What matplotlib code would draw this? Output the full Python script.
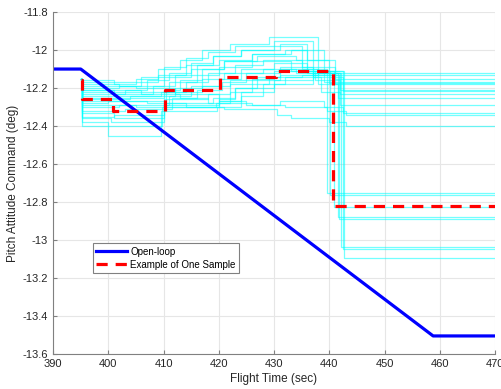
import matplotlib
matplotlib.use("Agg")
import matplotlib.pyplot as plt
from matplotlib.ticker import FormatStrFormatter

plt.rcParams['font.family'] = ['Liberation Sans', 'DejaVu Sans']

# open-loop command
open_t = [390, 395, 458.8, 470]
open_v = [-12.1, -12.1, -13.505, -13.505]

# one sample of the closed-loop runs
sample_t = [395, 395.2, 400.9, 410.3, 420.3, 430.4, 440.6, 470]
sample_v = [-12.16, -12.26, -12.32, -12.21, -12.14, -12.11, -12.82, -12.82]

# Monte Carlo runs (step traces)
runs = [
    ([395, 395.2, 401, 405, 409, 413, 417, 422, 429, 438],
     [-12.15, -12.17, -12.18, -12.15, -12.10, -12.05, -12.00, -11.97, -11.93, -12.12]),
    ([395, 395.2, 402, 406, 410, 414, 418, 423, 430, 437],
     [-12.15, -12.20, -12.19, -12.14, -12.09, -12.04, -12.01, -11.98, -11.95, -12.13]),
    ([395, 395.2, 403, 407, 411, 415, 419, 424, 431, 436, 441],
     [-12.15, -12.22, -12.21, -12.16, -12.12, -12.07, -12.03, -12.00, -11.97, -12.05, -12.15]),
    ([395, 395.2, 401, 408, 412, 416, 420, 426, 433, 439],
     [-12.15, -12.24, -12.23, -12.19, -12.13, -12.08, -12.05, -12.02, -12.00, -12.17]),
    ([395, 395.2, 404, 410, 413, 417, 421, 427, 434, 440],
     [-12.15, -12.26, -12.25, -12.21, -12.16, -12.10, -12.06, -12.03, -12.05, -12.175]),
    ([395, 395.2, 400, 410.5, 414, 418, 423, 428, 435, 441],
     [-12.15, -12.28, -12.27, -12.22, -12.17, -12.12, -12.08, -12.05, -12.09, -12.18]),
    ([395, 395.2, 402, 411, 415, 420, 424, 430, 436, 442],
     [-12.15, -12.30, -12.29, -12.24, -12.19, -12.15, -12.10, -12.07, -12.12, -12.21]),
    ([395, 395.2, 403, 411.5, 416, 420.5, 425, 431, 437, 442.5],
     [-12.15, -12.32, -12.31, -12.25, -12.21, -12.17, -12.12, -12.09, -12.14, -12.215]),
    ([395, 395.2, 401, 410, 419.5, 422, 426, 430, 437.5, 442],
     [-12.15, -12.35, -12.34, -12.30, -12.28, -12.22, -12.15, -12.11, -12.16, -12.23]),
    ([395, 395.2, 400, 409.7, 420, 423, 427, 431, 438, 441.5],
     [-12.15, -12.38, -12.40, -12.30, -12.26, -12.20, -12.14, -12.10, -12.18, -12.25]),
    ([395, 395.2, 400, 409.6, 419.7, 424, 428, 432, 438.5, 442],
     [-12.15, -12.40, -12.45, -12.32, -12.30, -12.24, -12.18, -12.14, -12.22, -12.29]),
    ([395, 395.2, 405, 412, 420, 425, 431, 439, 442.5],
     [-12.15, -12.19, -12.20, -12.23, -12.27, -12.29, -12.27, -12.30, -12.33]),
    ([395, 395.2, 406, 413, 418, 426, 432, 439.5, 443],
     [-12.15, -12.21, -12.23, -12.25, -12.28, -12.29, -12.30, -12.32, -12.34]),
    ([395, 395.2, 407, 414, 421, 430.5, 433, 440, 443],
     [-12.15, -12.27, -12.28, -12.30, -12.31, -12.34, -12.36, -12.38, -12.40]),
    ([395, 395.2, 401, 409, 414, 419, 424, 430, 435, 439.5],
     [-12.15, -12.16, -12.17, -12.13, -12.08, -12.03, -12.00, -11.98, -12.10, -12.755]),
    ([395, 395.2, 402, 410, 415, 421, 426, 432, 436, 440.2],
     [-12.15, -12.18, -12.19, -12.14, -12.10, -12.06, -12.02, -12.00, -12.11, -12.765]),
    ([395, 395.2, 403, 411, 416, 420, 426, 433, 440.8],
     [-12.15, -12.23, -12.22, -12.17, -12.13, -12.09, -12.06, -12.11, -12.825]),
    ([395, 395.2, 404, 412, 417, 421, 428, 434, 441.5],
     [-12.15, -12.25, -12.24, -12.20, -12.15, -12.12, -12.10, -12.12, -12.88]),
    ([395, 395.2, 405, 410, 418, 422, 429, 435, 441.8],
     [-12.15, -12.29, -12.30, -12.26, -12.23, -12.18, -12.14, -12.13, -12.89]),
    ([395, 395.2, 401, 410, 419, 423, 430, 437, 442.2],
     [-12.15, -12.33, -12.36, -12.28, -12.25, -12.20, -12.16, -12.12, -13.035]),
    ([395, 395.2, 400.5, 410, 420, 424, 430, 437, 442.4],
     [-12.15, -12.36, -12.38, -12.29, -12.27, -12.22, -12.18, -12.11, -13.045]),
    ([395, 395.2, 401, 409.5, 417, 422, 431, 438, 442.7],
     [-12.15, -12.21, -12.24, -12.22, -12.19, -12.16, -12.13, -12.11, -13.095]),
]

fig = plt.figure(figsize=(5.01, 3.89), dpi=100)
ax = fig.add_axes([0.106, 0.09, 0.882, 0.879])

for t, v in runs:
    ax.plot(t + [470], v + [v[-1]], drawstyle='steps-post',
            color='cyan', alpha=0.55, lw=0.9)

ax.plot(open_t, open_v, color='#0000ff', lw=2.3, label='Open-loop')
ax.plot(sample_t, sample_v, drawstyle='steps-post', color='#ff0000', lw=2.3,
        dashes=(3.5, 2.5), label='Example of One Sample')

ax.set_xlim(390, 470)
ax.set_ylim(-13.6, -11.8)
ax.set_xticks(range(390, 471, 10))
ax.set_yticks([-13.6 + 0.2 * i for i in range(10)])
ax.yaxis.set_major_formatter(FormatStrFormatter('%g'))
ax.grid(True, color='#e6e6e6', lw=0.8)
ax.set_axisbelow(True)

for s in ['top', 'right']:
    ax.spines[s].set_visible(False)
for s in ['left', 'bottom']:
    ax.spines[s].set_color('#808080')
ax.tick_params(direction='in', length=3, labelsize=8, colors='#262626')
ax.tick_params(axis='both', color='#808080')

ax.set_xlabel('Flight Time (sec)', fontsize=8.5, color='#262626', labelpad=3)
ax.set_ylabel('Pitch Attitude Command (deg)', fontsize=8.5, color='#262626', labelpad=3)

leg = ax.legend(loc='lower left', bbox_to_anchor=(0.09, 0.237), fontsize=7,
                fancybox=False, framealpha=1, edgecolor='#808080',
                handlelength=3.2, borderpad=0.35, labelspacing=0.3,
                handletextpad=0.3, borderaxespad=0)
leg.get_frame().set_linewidth(0.8)

fig.savefig('out.png', dpi=100)
